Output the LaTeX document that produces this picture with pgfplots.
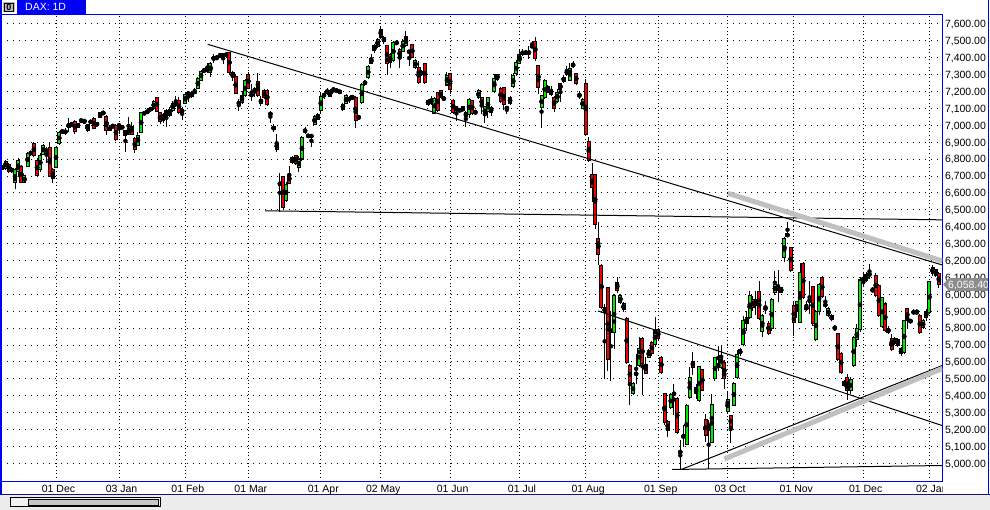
\documentclass[border=0pt]{standalone}
\usepackage{pgfplots}
\pgfplotsset{compat=1.18}
\usepackage{pgfplotstable}
\usetikzlibrary{calc}
\usepackage{fontspec}
\setmainfont{Liberation Sans}
\definecolor{frameblue}{RGB}{0,0,245}
\definecolor{darkline}{RGB}{20,20,120}
\definecolor{candlegreen}{RGB}{0,235,0}
\definecolor{candlered}{RGB}{245,0,0}
\definecolor{trendgray}{RGB}{192,192,192}
\definecolor{pricegray}{RGB}{140,140,140}
\definecolor{scrollbg}{RGB}{236,236,236}
\newcommand{\lblfont}{\fontsize{10.5bp}{12bp}\selectfont}

\pgfplotstableread{
i o h l c
0 6748 6765 6736 6752
1 6746 6795 6736 6789
2 6771 6779 6720 6726
3 6746 6752 6716 6726
4 6661 6746 6622 6736
5 6726 6805 6696 6795
6 6759 6765 6657 6661
7 6661 6706 6657 6702
8 6759 6844 6755 6834
9 6834 6850 6820 6840
10 6893 6903 6814 6824
11 6795 6805 6700 6706
12 6736 6834 6726 6824
13 6830 6889 6824 6883
14 6854 6874 6779 6848
15 6870 6903 6692 6700
16 6740 6746 6657 6687
17 6751 6877 6746 6870
18 6893 6968 6883 6958
19 6960 6975 6950 6968
20 6972 6982 6943 6952
21 6988 7041 6962 7005
22 7005 7020 6990 7010
23 7021 7031 6952 6962
24 6988 7017 6982 7011
25 7027 7041 7017 7029
26 7027 7031 7011 7025
27 7007 7011 6962 6968
28 7019 7031 7011 7023
29 7041 7047 6976 6982
30 6998 7021 6992 7017
31 7047 7080 7041 7074
32 7072 7080 7066 7076
33 7055 7061 6943 6972
34 6988 6996 6966 6972
35 6995 7000 6985 6998
36 7002 7007 6909 6917
37 7002 7011 6952 6998
38 6988 6995 6980 6990
39 6968 6972 6844 6943
40 6948 7051 6943 6982
41 6995 7021 6943 6948
42 6923 6933 6834 6858
43 6883 6962 6877 6942
44 6958 7080 6952 7074
45 7066 7082 7060 7078
46 7070 7100 7066 7090
47 7090 7110 7080 7102
48 7100 7149 7092 7139
49 7165 7169 7080 7080
50 7074 7080 7011 7021
51 7031 7076 7017 7063
52 7086 7096 6992 7057
53 7057 7106 7051 7096
54 7090 7145 7082 7130
55 7116 7175 7110 7149
56 7149 7165 7070 7076
57 7096 7106 7031 7076
58 7130 7195 7126 7181
59 7195 7205 7136 7181
60 7171 7205 7165 7195
61 7196 7224 7185 7200
62 7220 7287 7214 7277
63 7268 7327 7264 7319
64 7320 7335 7315 7330
65 7319 7372 7313 7336
66 7313 7378 7287 7368
67 7393 7425 7372 7398
68 7400 7411 7385 7402
69 7405 7431 7400 7421
70 7425 7431 7362 7405
71 7411 7437 7401 7425
72 7431 7437 7307 7313
73 7313 7323 7264 7289
74 7289 7297 7185 7189
75 7136 7155 7086 7128
76 7136 7204 7126 7175
77 7175 7273 7165 7264
78 7303 7313 7214 7218
79 7181 7244 7145 7177
80 7200 7230 7170 7215
81 7258 7313 7169 7175
82 7132 7175 7116 7155
83 7208 7214 7155 7165
84 7208 7214 7116 7126
85 7073 7086 7017 7063
86 6992 7007 6958 6978
87 6895 6948 6840 6860
88 6663 6716 6486 6647
89 6696 6702 6505 6515
90 6553 6663 6545 6653
91 6712 6761 6653 6657
92 6781 6820 6771 6810
93 6820 6826 6767 6775
94 6751 6820 6722 6801
95 6801 6939 6791 6929
96 6965 6988 6952 6970
97 6940 6948 6930 6935
98 6944 6948 6870 6929
99 7007 7063 7002 7051
100 7067 7076 7033 7037
101 7086 7195 7076 7171
102 7175 7204 7155 7180
103 7188 7224 7180 7208
104 7208 7214 7169 7174
105 7206 7224 7204 7210
106 7208 7218 7194 7204
107 7200 7210 7190 7196
108 7125 7135 7086 7096
109 7129 7184 7125 7174
110 7145 7174 7135 7165
111 7160 7175 7150 7174
112 7165 7174 6987 7031
113 7050 7056 7036 7046
114 7135 7253 7125 7243
115 7245 7270 7235 7260
116 7283 7356 7273 7348
117 7366 7421 7362 7397
118 7444 7480 7431 7470
119 7464 7519 7460 7509
120 7568 7588 7519 7523
121 7519 7529 7480 7499
122 7470 7476 7299 7366
123 7417 7431 7342 7372
124 7385 7499 7378 7490
125 7486 7500 7480 7490
126 7450 7460 7342 7401
127 7440 7509 7436 7499
128 7470 7559 7464 7523
129 7437 7445 7352 7435
130 7480 7484 7397 7401
131 7342 7391 7332 7385
132 7342 7381 7247 7253
133 7318 7327 7293 7303
134 7366 7372 7247 7253
135 7121 7159 7115 7149
136 7130 7175 7121 7155
137 7070 7169 7066 7161
138 7194 7198 7082 7090
139 7204 7208 7160 7165
140 7160 7165 7150 7158
141 7239 7313 7233 7293
142 7307 7313 7184 7214
143 7149 7155 7066 7076
144 7110 7115 7027 7086
145 7096 7100 7080 7082
146 7086 7110 7080 7110
147 7076 7086 6991 7050
148 7062 7165 7046 7155
149 7145 7151 7062 7070
150 7082 7090 7070 7072
151 7165 7214 7155 7204
152 7165 7169 7066 7115
153 7062 7115 7017 7110
154 7082 7169 7046 7165
155 7106 7115 7056 7076
156 7200 7303 7194 7279
157 7302 7306 7263 7273
158 7220 7228 7135 7141
159 7224 7228 7090 7121
160 7105 7115 7070 7100
161 7129 7175 7121 7165
162 7228 7312 7220 7293
163 7307 7385 7293 7371
164 7366 7444 7362 7417
165 7420 7450 7411 7436
166 7430 7440 7420 7432
167 7436 7470 7391 7425
168 7470 7499 7460 7466
169 7499 7523 7381 7397
170 7352 7358 7184 7224
171 7106 7175 6987 7175
172 7165 7273 7155 7263
173 7228 7240 7190 7194
174 7184 7233 7175 7214
175 7165 7175 7082 7102
176 7141 7214 7135 7194
177 7247 7253 7141 7212
178 7259 7297 7253 7286
179 7303 7352 7293 7322
180 7267 7371 7263 7338
181 7367 7381 7338 7346
182 7307 7312 7240 7247
183 7170 7204 7155 7185
184 7101 7165 7096 7155
185 7249 7277 6944 6948
186 6904 6932 6786 6794
187 6711 6780 6544 6633
188 6711 6715 6386 6412
189 6333 6426 6176 6235
190 6168 6180 5914 5920
191 5894 5944 5500 5920
192 6038 6042 5545 5612
193 5780 5900 5486 5790
194 5775 6002 5677 5992
195 6071 6101 6010 6022
196 5953 6000 5940 5992
197 5908 5955 5894 5947
198 5855 5865 5585 5599
199 5579 5590 5347 5474
200 5412 5480 5402 5470
201 5525 5648 5471 5535
202 5579 5746 5573 5678
203 5737 5746 5402 5589
204 5585 5628 5526 5534
205 5628 5678 5624 5668
206 5717 5727 5638 5648
207 5703 5865 5687 5786
208 5790 5802 5727 5737
209 5628 5638 5530 5540
210 5412 5416 5224 5244
211 5248 5254 5155 5195
212 5329 5416 5323 5408
213 5408 5471 5284 5416
214 5382 5392 5175 5185
215 5070 5136 4958 5064
216 5155 5225 5096 5164
217 5112 5353 5106 5343
218 5392 5569 5382 5506
219 5605 5658 5520 5569
220 5451 5471 5382 5416
221 5372 5579 5362 5573
222 5553 5559 5427 5431
223 5258 5293 5126 5165
224 5230 5254 4968 5195
225 5126 5412 5120 5348
226 5500 5632 5486 5624
227 5569 5697 5549 5589
228 5569 5703 5559 5638
229 5599 5613 5441 5500
230 5309 5427 5289 5376
231 5284 5288 5120 5215
232 5343 5481 5337 5471
233 5510 5672 5500 5644
234 5648 5682 5638 5672
235 5703 5874 5697 5845
236 5825 5900 5786 5865
237 5861 6022 5855 5993
238 5967 5993 5900 5920
239 5934 6018 5880 5967
240 6018 6081 5849 5855
241 5782 5885 5747 5875
242 5920 5963 5884 5914
243 5829 5841 5762 5770
244 5796 5979 5786 5967
245 6012 6140 5998 6057
246 6026 6144 5953 6038
247 6038 6046 6006 6012
248 6219 6341 6190 6333
249 6361 6426 6338 6341
250 6278 6283 6131 6140
251 5934 5953 5756 5835
252 5900 5963 5860 5959
253 5835 6184 5829 6131
254 6180 6190 5973 5979
255 5908 5963 5900 5928
256 5960 6081 5884 5966
257 6046 6052 5815 5825
258 5731 5908 5723 5900
259 5900 6066 5875 6057
260 6097 6111 5979 5987
261 5940 5993 5920 5934
262 5875 5924 5865 5914
263 5875 5885 5841 5849
264 5804 5810 5786 5802
265 5766 5770 5608 5612
266 5652 5658 5530 5540
267 5486 5494 5451 5461
268 5510 5530 5372 5431
269 5431 5510 5412 5494
270 5579 5756 5569 5742
271 5731 5825 5687 5796
272 5790 6101 5776 6085
273 6085 6131 6052 6062
274 6117 6131 6071 6081
275 6125 6180 6091 6111
276 6026 6046 6012 6022
277 6111 6125 5987 5993
278 6052 6062 5865 5875
279 5810 5987 5802 5983
280 5943 5953 5776 5786
281 5796 5810 5766 5776
282 5737 5766 5664 5672
283 5711 5747 5703 5737
284 5733 5743 5687 5697
285 5648 5688 5638 5678
286 5658 5850 5648 5845
287 5914 5920 5796 5845
288 5840 5850 5830 5845
289 5904 5914 5875 5884
290 5894 5904 5880 5900
291 5875 5884 5766 5776
292 5802 5855 5796 5845
293 5865 5914 5845 5900
294 5894 6081 5884 6077
295 6121 6176 6111 6160
296 6145 6150 6101 6111
297 6125 6131 6038 6058.4
}\dax

\begin{document}
\begin{tikzpicture}
\useasboundingbox (0,0) rectangle (990bp,510bp);
\fill[white] (0,0) rectangle (990bp,510bp);
\begin{axis}[
  at={(1bp,28.3bp)}, anchor=south west,
  scale only axis, width=941.3bp, height=467.4bp,
  xmin=-0.444, xmax=298.1, ymin=4891.3, ymax=7657.4,
  axis line style={frameblue, line width=1bp},
  major tick length=0pt,
  tick style={draw=none},
  xtick=\empty,
  extra x ticks={17,37,58,78,101,120,142,164,185,208,230,251,273,294},
  extra x tick labels={01 Dec,03 Jan,01 Feb,01 Mar,01 Apr,02 May,01 Jun,01 Jul,01 Aug,01 Sep,03 Oct,01 Nov,01 Dec,02 Jan},
  extra x tick style={grid=major, major grid style={black, line width=1bp, dash pattern=on 1bp off 2.6bp}},
  xticklabel style={anchor=base, inner sep=0pt, yshift=-10.6bp, xshift=2.5bp, font=\lblfont},
  ytick={5000,5100,...,7600},
  scaled y ticks=false,
  yticklabel pos=right,
  ymajorgrids,
  major grid style={black, line width=1bp, dash pattern=on 1bp off 5bp},
  yticklabel style={anchor=base west, inner sep=0pt, xshift=2.5bp, yshift=-3.75bp, font=\lblfont,
    /pgf/number format/.cd, fixed, fixed zerofill, precision=2, 1000 sep={,}, assume math mode=true},
]
% wicks
\addplot[only marks, mark=none, forget plot,
  error bars/.cd, y dir=both, y explicit, error mark=none,
  error bar style={black, line width=1bp, solid}]
  table[x=i, y expr={(\thisrow{h}+\thisrow{l})/2}, y error expr={(\thisrow{h}-\thisrow{l})/2}] {\dax};
% body outlines
\addplot[only marks, mark=none, forget plot,
  error bars/.cd, y dir=both, y explicit, error mark=none,
  error bar style={black, line width=4bp, solid}]
  table[x=i, y expr={(\thisrow{o}+\thisrow{c})/2}, y error expr={abs(\thisrow{c}-\thisrow{o})/2+3}] {\dax};
% rising bodies
\addplot[only marks, mark=none, forget plot,
  error bars/.cd, y dir=both, y explicit, error mark=none,
  error bar style={candlegreen, line width=2bp, solid}]
  table[x=i, y expr={(\thisrow{o}+\thisrow{c})/2}, y error expr={(\thisrow{c}>=\thisrow{o})*max(abs(\thisrow{c}-\thisrow{o})/2-3,0)}] {\dax};
% falling bodies
\addplot[only marks, mark=none, forget plot,
  error bars/.cd, y dir=both, y explicit, error mark=none,
  error bar style={candlered, line width=2bp, solid}]
  table[x=i, y expr={(\thisrow{o}+\thisrow{c})/2}, y error expr={(\thisrow{c}<\thisrow{o})*max(abs(\thisrow{c}-\thisrow{o})/2-3,0)}] {\dax};
% trend lines
\addplot[black, line width=1bp, forget plot] coordinates {(65.11,7479.9) (298.1,6173.8)};
\addplot[black, line width=1bp, forget plot] coordinates {(83.3,6494.5) (298.1,6441)};
\addplot[black, line width=1bp, forget plot] coordinates {(188.9,5901.5) (298.1,5223.3)};
\addplot[black, line width=1bp, forget plot] coordinates {(215.45,4964.7) (298.1,5579.0)};
\addplot[black, line width=1bp, forget plot] coordinates {(212.4,4963.5) (298.1,4987.2)};
\addplot[trendgray, line width=5bp, forget plot] coordinates {(230.1,6598.1) (298.1,6197.4)};
\addplot[trendgray, line width=5bp, forget plot] coordinates {(229.0,5025.7) (298.1,5561.3)};
\coordinate (lp) at (axis cs:298.1,6058.4);
\end{axis}
\begin{scope}[x=1bp,y=1bp]
% hide overflow of last date label
\fill[white] (942.9,16.3) rectangle (987.8,27.8);
% last price tag
\fill[pricegray] ($(lp)+(0.8,0)$) -- ($(lp)+(6.5,6.3)$) -- ($(lp)+(45.7,6.3)$) -- ($(lp)+(45.7,-6.3)$) -- ($(lp)+(6.5,-6.3)$) -- cycle;
\node[anchor=base, inner sep=0pt, text=white, font=\lblfont] at ($(lp)+(26.3,-3.75)$) {6,058.40};
% window frame
\draw[frameblue, line width=2bp] (1,15.7) -- (1,510);
\draw[frameblue, line width=1bp] (988.3,15.7) -- (988.3,510);
\draw[darkline, line width=1bp] (0,15.7) -- (990,15.7);
\fill[scrollbg] (0,0) rectangle (990,15.2);
\draw[black, line width=1bp, fill=white!95!black] (10.5,3.3) rectangle (160.7,12.7);
\draw[black, line width=0.8bp, fill=gray!45] (28.3,4.8) rectangle (158.3,10.9);
% title tab
\fill[frameblue] (17.3,495.7) rectangle (86,510);
\node[anchor=base west, inner sep=0pt, text=white, font=\lblfont] at (25,499) {DAX: 1D};
\fill[gray!55] (2.2,497) rectangle (15.8,508.6);
\draw[white, line width=0.8bp] (2.6,497.4) rectangle (15.4,508.2);
\draw[black, line width=0.6bp] (4.5,498.6) rectangle (13.5,507);
\node[inner sep=0pt, font=\fontsize{9bp}{10bp}\selectfont\bfseries] at (9,502.8) {0};
\end{scope}
\end{tikzpicture}
\end{document}
